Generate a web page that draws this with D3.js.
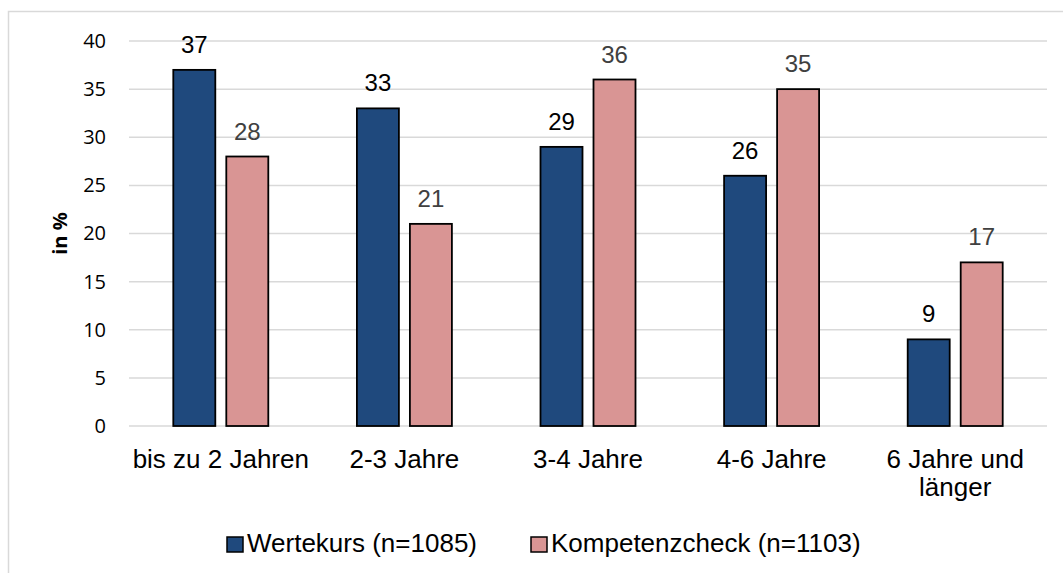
<!DOCTYPE html>
<html>
<head>
<meta charset="utf-8">
<script src="https://cdn.jsdelivr.net/npm/d3@7"></script>
<style>
  body { margin: 0; background: #fff; }
  svg { font-family: "Liberation Sans", Arial, sans-serif; }
</style>
</head>
<body>
<div id="plot"></div>
<script>
// chart values
const categories = ["bis zu 2 Jahren", "2-3 Jahre", "3-4 Jahre", "4-6 Jahre", "6 Jahre und länger"];
const seriesNames = ["Wertekurs (n=1085)", "Kompetenzcheck (n=1103)"];
const wertekurs = [37, 33, 29, 26, 9];
const kompetenzcheck = [28, 21, 36, 35, 17];
const yTicks = [0, 5, 10, 15, 20, 25, 30, 35, 40];

const colors = ["#1F497D", "#D99594"];
const labelColors = ["#000000", "#404040"];

const W = 1063, H = 573;
const margin = { top: 41, right: 16, bottom: 147, left: 129 };
const width = W - margin.left - margin.right;
const height = H - margin.top - margin.bottom;

const svgRoot = d3.select("#plot")
  .append("svg")
  .attr("width", W)
  .attr("height", H);

// outer chart border (runs off right/bottom edges)
svgRoot.append("rect")
  .attr("x", 8.5).attr("y", 11.5)
  .attr("width", W + 20).attr("height", H + 20)
  .attr("fill", "none")
  .attr("stroke", "#d9d9d9")
  .attr("stroke-width", 1.5);

const svg = svgRoot.append("g")
  .attr("transform", `translate(${margin.left},${margin.top})`);

const x = d3.scaleBand()
  .domain(categories)
  .range([0, width]);

const x1 = d3.scaleBand()
  .domain([0, 1])
  .range([x.bandwidth() / 2 - 47.5, x.bandwidth() / 2 + 47.5])
  .paddingInner(0.2075);

const y = d3.scaleLinear()
  .domain([0, 40])
  .range([height, 0]);

// gridlines
svg.append("g")
  .selectAll("line")
  .data(yTicks)
  .enter()
  .append("line")
  .attr("x1", 0)
  .attr("x2", width)
  .attr("y1", d => y(d))
  .attr("y2", d => y(d))
  .attr("stroke", "#d9d9d9")
  .attr("stroke-width", 1.5);

// y axis labels
const yAxis = svg.append("g")
  .call(d3.axisLeft(y).tickValues(yTicks).tickSize(0).tickPadding(23));
yAxis.select(".domain").remove();
yAxis.selectAll("text")
  .attr("font-family", "'Open Sans', sans-serif")
  .attr("font-size", "20px")
  .attr("fill", "#000");

// y axis title
svg.append("text")
  .attr("transform", `translate(${-62},${height / 2}) rotate(-90)`)
  .attr("text-anchor", "middle")
  .attr("font-family", "'Open Sans', sans-serif")
  .attr("font-size", "20px")
  .attr("font-weight", "bold")
  .text("in %");

// bars
const rows = categories.map((c, i) => ({ cat: c, vals: [wertekurs[i], kompetenzcheck[i]] }));

const groups = svg.selectAll(".grp")
  .data(rows)
  .enter()
  .append("g")
  .attr("class", "grp")
  .attr("transform", d => `translate(${x(d.cat)},0)`);

groups.selectAll("rect")
  .data(d => d.vals.map((v, k) => ({ v, k })))
  .enter()
  .append("rect")
  .attr("x", d => x1(d.k))
  .attr("y", d => y(d.v))
  .attr("width", x1.bandwidth())
  .attr("height", d => height - y(d.v))
  .attr("fill", d => colors[d.k])
  .attr("stroke", "#000")
  .attr("stroke-width", 1.8);

groups.selectAll(".val")
  .data(d => d.vals.map((v, k) => ({ v, k })))
  .enter()
  .append("text")
  .attr("class", "val")
  .attr("x", d => x1(d.k) + x1.bandwidth() / 2)
  .attr("y", d => y(d.v) - 17)
  .attr("text-anchor", "middle")
  .attr("font-size", "24px")
  .attr("fill", d => labelColors[d.k])
  .text(d => d.v);

// category labels
const catLabel = svg.append("g")
  .selectAll("text")
  .data(categories)
  .enter()
  .append("text")
  .attr("x", d => x(d) + x.bandwidth() / 2)
  .attr("y", 468 - margin.top)
  .attr("text-anchor", "middle")
  .attr("font-size", "26px")
  .attr("fill", "#000");

catLabel.each(function (d) {
  const t = d3.select(this);
  const lines = d === "6 Jahre und länger" ? ["6 Jahre und", "länger"] : [d];
  lines.forEach((l, i) => {
    t.append("tspan")
      .attr("x", x(d) + x.bandwidth() / 2)
      .attr("dy", i === 0 ? 0 : 28)
      .text(l);
  });
});

// legend
const legend = svgRoot.append("g");
const legendX = [227, 531];
seriesNames.forEach((name, i) => {
  legend.append("rect")
    .attr("x", legendX[i])
    .attr("y", 537)
    .attr("width", 16)
    .attr("height", 15)
    .attr("fill", colors[i])
    .attr("stroke", "#000")
    .attr("stroke-width", 1.5);
  legend.append("text")
    .attr("x", legendX[i] + 20)
    .attr("y", 552)
    .attr("font-size", "26px")
    .attr("fill", "#000")
    .text(name);
});
</script>
</body>
</html>
